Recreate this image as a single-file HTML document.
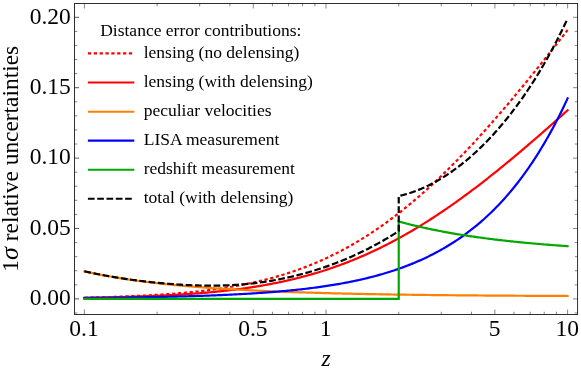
<!DOCTYPE html>
<html><head><meta charset="utf-8"><title>plot</title>
<style>
html,body{margin:0;padding:0;background:#fff;}
svg{display:block;will-change:transform;opacity:0.999;}
text{font-family:"Liberation Serif",serif;fill:#000;}
.tk{font-size:23.5px;}
.lg{font-size:17.5px;}
.ax{font-size:23.4px;}
.c{fill:none;stroke-width:2.2;stroke-linejoin:round;stroke-linecap:square;}
</style></head><body>
<svg width="581" height="372" viewBox="0 0 581 372">
<rect x="0" y="0" width="581" height="372" fill="#fff"/>
<g>
<path class="c" stroke="#ff0000" stroke-dasharray="3.3 2.55" style="stroke-linecap:butt" d="M84.40,297.63 L86.02,297.60 L87.63,297.57 L89.25,297.53 L90.86,297.49 L92.48,297.46 L94.10,297.42 L95.71,297.38 L97.33,297.34 L98.94,297.30 L100.56,297.25 L102.18,297.21 L103.79,297.17 L105.41,297.12 L107.02,297.07 L108.64,297.03 L110.26,296.98 L111.87,296.93 L113.49,296.87 L115.11,296.82 L116.72,296.77 L118.34,296.71 L119.95,296.65 L121.57,296.59 L123.19,296.53 L124.80,296.47 L126.42,296.41 L128.03,296.34 L129.65,296.28 L131.27,296.21 L132.88,296.14 L134.50,296.07 L136.11,296.00 L137.73,295.92 L139.35,295.85 L140.96,295.77 L142.58,295.69 L144.19,295.60 L145.81,295.52 L147.43,295.43 L149.04,295.35 L150.66,295.25 L152.27,295.16 L153.89,295.07 L155.51,294.97 L157.12,294.87 L158.74,294.77 L160.35,294.66 L161.97,294.56 L163.59,294.45 L165.20,294.34 L166.82,294.22 L168.43,294.11 L170.05,293.99 L171.67,293.86 L173.28,293.74 L174.90,293.61 L176.52,293.48 L178.13,293.34 L179.75,293.21 L181.36,293.07 L182.98,292.92 L184.60,292.78 L186.21,292.63 L187.83,292.47 L189.44,292.32 L191.06,292.16 L192.68,291.99 L194.29,291.82 L195.91,291.65 L197.52,291.48 L199.14,291.30 L200.76,291.11 L202.37,290.93 L203.99,290.74 L205.60,290.54 L207.22,290.34 L208.84,290.14 L210.45,289.93 L212.07,289.72 L213.68,289.50 L215.30,289.28 L216.92,289.05 L218.53,288.82 L220.15,288.59 L221.76,288.35 L223.38,288.10 L225.00,287.85 L226.61,287.59 L228.23,287.33 L229.84,287.07 L231.46,286.79 L233.08,286.52 L234.69,286.23 L236.31,285.94 L237.93,285.65 L239.54,285.35 L241.16,285.04 L242.77,284.73 L244.39,284.41 L246.01,284.09 L247.62,283.76 L249.24,283.42 L250.85,283.07 L252.47,282.72 L254.09,282.37 L255.70,282.00 L257.32,281.63 L258.93,281.26 L260.55,280.87 L262.17,280.48 L263.78,280.08 L265.40,279.67 L267.01,279.26 L268.63,278.84 L270.25,278.41 L271.86,277.97 L273.48,277.53 L275.09,277.08 L276.71,276.62 L278.33,276.15 L279.94,275.67 L281.56,275.19 L283.17,274.69 L284.79,274.19 L286.41,273.68 L288.02,273.17 L289.64,272.64 L291.25,272.10 L292.87,271.56 L294.49,271.00 L296.10,270.44 L297.72,269.87 L299.34,269.29 L300.95,268.70 L302.57,268.10 L304.18,267.49 L305.80,266.87 L307.42,266.24 L309.03,265.60 L310.65,264.96 L312.26,264.30 L313.88,263.63 L315.50,262.95 L317.11,262.27 L318.73,261.57 L320.34,260.86 L321.96,260.14 L323.58,259.41 L325.19,258.67 L326.81,257.92 L328.42,257.16 L330.04,256.39 L331.66,255.61 L333.27,254.82 L334.89,254.01 L336.50,253.20 L338.12,252.37 L339.74,251.54 L341.35,250.69 L342.97,249.83 L344.58,248.96 L346.20,248.08 L347.82,247.19 L349.43,246.29 L351.05,245.37 L352.66,244.45 L354.28,243.51 L355.90,242.56 L357.51,241.60 L359.13,240.63 L360.75,239.65 L362.36,238.65 L363.98,237.65 L365.59,236.63 L367.21,235.60 L368.83,234.56 L370.44,233.50 L372.06,232.44 L373.67,231.36 L375.29,230.27 L376.91,229.17 L378.52,228.06 L380.14,226.94 L381.75,225.81 L383.37,224.66 L384.99,223.50 L386.60,222.33 L388.22,221.15 L389.83,219.95 L391.45,218.75 L393.07,217.53 L394.68,216.30 L396.30,215.06 L397.91,213.81 L399.53,212.55 L401.15,211.27 L402.76,209.99 L404.38,208.69 L405.99,207.38 L407.61,206.06 L409.23,204.72 L410.84,203.38 L412.46,202.02 L414.07,200.66 L415.69,199.28 L417.31,197.89 L418.92,196.49 L420.54,195.08 L422.16,193.65 L423.77,192.22 L425.39,190.78 L427.00,189.32 L428.62,187.85 L430.24,186.38 L431.85,184.89 L433.47,183.39 L435.08,181.88 L436.70,180.36 L438.32,178.83 L439.93,177.28 L441.55,175.73 L443.16,174.17 L444.78,172.60 L446.40,171.02 L448.01,169.42 L449.63,167.82 L451.24,166.21 L452.86,164.59 L454.48,162.95 L456.09,161.31 L457.71,159.66 L459.32,158.00 L460.94,156.33 L462.56,154.65 L464.17,152.96 L465.79,151.26 L467.40,149.55 L469.02,147.84 L470.64,146.11 L472.25,144.38 L473.87,142.63 L475.48,140.88 L477.10,139.12 L478.72,137.35 L480.33,135.58 L481.95,133.79 L483.57,132.00 L485.18,130.19 L486.80,128.39 L488.41,126.57 L490.03,124.74 L491.65,122.91 L493.26,121.07 L494.88,119.22 L496.49,117.37 L498.11,115.50 L499.73,113.63 L501.34,111.76 L502.96,109.87 L504.57,107.98 L506.19,106.08 L507.81,104.18 L509.42,102.27 L511.04,100.35 L512.65,98.43 L514.27,96.50 L515.89,94.56 L517.50,92.62 L519.12,90.67 L520.73,88.72 L522.35,86.76 L523.97,84.79 L525.58,82.82 L527.20,80.85 L528.81,78.86 L530.43,76.88 L532.05,74.89 L533.66,72.89 L535.28,70.89 L536.89,68.88 L538.51,66.87 L540.13,64.85 L541.74,62.83 L543.36,60.81 L544.98,58.78 L546.59,56.75 L548.21,54.71 L549.82,52.67 L551.44,50.62 L553.06,48.57 L554.67,46.52 L556.29,44.46 L557.90,42.40 L559.52,40.34 L561.14,38.27 L562.75,36.20 L564.37,34.13 L565.98,32.05 L567.60,29.97"/>
<path class="c" stroke="#ff0000" d="M84.40,297.86 L86.02,297.84 L87.63,297.81 L89.25,297.78 L90.86,297.75 L92.48,297.73 L94.10,297.70 L95.71,297.67 L97.33,297.64 L98.94,297.60 L100.56,297.57 L102.18,297.54 L103.79,297.51 L105.41,297.47 L107.02,297.44 L108.64,297.40 L110.26,297.36 L111.87,297.32 L113.49,297.29 L115.11,297.25 L116.72,297.21 L118.34,297.16 L119.95,297.12 L121.57,297.08 L123.19,297.03 L124.80,296.99 L126.42,296.94 L128.03,296.89 L129.65,296.84 L131.27,296.79 L132.88,296.74 L134.50,296.69 L136.11,296.64 L137.73,296.58 L139.35,296.52 L140.96,296.47 L142.58,296.41 L144.19,296.35 L145.81,296.28 L147.43,296.22 L149.04,296.16 L150.66,296.09 L152.27,296.02 L153.89,295.95 L155.51,295.88 L157.12,295.81 L158.74,295.74 L160.35,295.66 L161.97,295.58 L163.59,295.50 L165.20,295.42 L166.82,295.34 L168.43,295.25 L170.05,295.17 L171.67,295.08 L173.28,294.99 L174.90,294.89 L176.52,294.80 L178.13,294.70 L179.75,294.60 L181.36,294.50 L182.98,294.40 L184.60,294.29 L186.21,294.18 L187.83,294.07 L189.44,293.96 L191.06,293.85 L192.68,293.73 L194.29,293.61 L195.91,293.48 L197.52,293.36 L199.14,293.23 L200.76,293.10 L202.37,292.97 L203.99,292.83 L205.60,292.69 L207.22,292.55 L208.84,292.40 L210.45,292.25 L212.07,292.10 L213.68,291.94 L215.30,291.79 L216.92,291.62 L218.53,291.46 L220.15,291.29 L221.76,291.12 L223.38,290.94 L225.00,290.77 L226.61,290.58 L228.23,290.40 L229.84,290.21 L231.46,290.01 L233.08,289.82 L234.69,289.62 L236.31,289.41 L237.93,289.20 L239.54,288.99 L241.16,288.77 L242.77,288.55 L244.39,288.32 L246.01,288.09 L247.62,287.86 L249.24,287.62 L250.85,287.37 L252.47,287.13 L254.09,286.87 L255.70,286.62 L257.32,286.35 L258.93,286.09 L260.55,285.81 L262.17,285.54 L263.78,285.25 L265.40,284.97 L267.01,284.67 L268.63,284.38 L270.25,284.07 L271.86,283.76 L273.48,283.45 L275.09,283.13 L276.71,282.81 L278.33,282.48 L279.94,282.14 L281.56,281.80 L283.17,281.45 L284.79,281.10 L286.41,280.74 L288.02,280.37 L289.64,280.00 L291.25,279.62 L292.87,279.24 L294.49,278.85 L296.10,278.45 L297.72,278.05 L299.34,277.64 L300.95,277.23 L302.57,276.80 L304.18,276.38 L305.80,275.94 L307.42,275.50 L309.03,275.05 L310.65,274.59 L312.26,274.13 L313.88,273.66 L315.50,273.18 L317.11,272.70 L318.73,272.21 L320.34,271.71 L321.96,271.21 L323.58,270.70 L325.19,270.18 L326.81,269.65 L328.42,269.12 L330.04,268.58 L331.66,268.03 L333.27,267.47 L334.89,266.91 L336.50,266.33 L338.12,265.76 L339.74,265.17 L341.35,264.57 L342.97,263.97 L344.58,263.36 L346.20,262.74 L347.82,262.12 L349.43,261.49 L351.05,260.84 L352.66,260.20 L354.28,259.54 L355.90,258.87 L357.51,258.20 L359.13,257.52 L360.75,256.83 L362.36,256.13 L363.98,255.43 L365.59,254.71 L367.21,253.99 L368.83,253.26 L370.44,252.53 L372.06,251.78 L373.67,251.03 L375.29,250.26 L376.91,249.49 L378.52,248.72 L380.14,247.93 L381.75,247.13 L383.37,246.33 L384.99,245.52 L386.60,244.70 L388.22,243.87 L389.83,243.04 L391.45,242.20 L393.07,241.34 L394.68,240.48 L396.30,239.62 L397.91,238.74 L399.53,237.86 L401.15,236.96 L402.76,236.06 L404.38,235.16 L405.99,234.24 L407.61,233.32 L409.23,232.38 L410.84,231.44 L412.46,230.49 L414.07,229.54 L415.69,228.57 L417.31,227.60 L418.92,226.62 L420.54,225.64 L422.16,224.64 L423.77,223.64 L425.39,222.63 L427.00,221.61 L428.62,220.58 L430.24,219.55 L431.85,218.51 L433.47,217.46 L435.08,216.41 L436.70,215.34 L438.32,214.27 L439.93,213.20 L441.55,212.11 L443.16,211.02 L444.78,209.92 L446.40,208.82 L448.01,207.70 L449.63,206.58 L451.24,205.46 L452.86,204.32 L454.48,203.18 L456.09,202.03 L457.71,200.88 L459.32,199.72 L460.94,198.55 L462.56,197.38 L464.17,196.20 L465.79,195.01 L467.40,193.82 L469.02,192.62 L470.64,191.41 L472.25,190.20 L473.87,188.98 L475.48,187.76 L477.10,186.53 L478.72,185.29 L480.33,184.05 L481.95,182.80 L483.57,181.55 L485.18,180.29 L486.80,179.03 L488.41,177.76 L490.03,176.48 L491.65,175.20 L493.26,173.91 L494.88,172.62 L496.49,171.33 L498.11,170.03 L499.73,168.72 L501.34,167.41 L502.96,166.09 L504.57,164.77 L506.19,163.45 L507.81,162.12 L509.42,160.78 L511.04,159.44 L512.65,158.10 L514.27,156.75 L515.89,155.40 L517.50,154.04 L519.12,152.68 L520.73,151.31 L522.35,149.95 L523.97,148.57 L525.58,147.20 L527.20,145.82 L528.81,144.43 L530.43,143.04 L532.05,141.65 L533.66,140.26 L535.28,138.86 L536.89,137.46 L538.51,136.05 L540.13,134.64 L541.74,133.23 L543.36,131.82 L544.98,130.40 L546.59,128.98 L548.21,127.56 L549.82,126.13 L551.44,124.70 L553.06,123.27 L554.67,121.83 L556.29,120.40 L557.90,118.96 L559.52,117.52 L561.14,116.07 L562.75,114.63 L564.37,113.18 L565.98,111.73 L567.60,110.28"/>
<path class="c" stroke="#ff7f00" d="M84.40,271.35 L86.02,271.71 L87.63,272.07 L89.25,272.42 L90.86,272.76 L92.48,273.10 L94.10,273.43 L95.71,273.76 L97.33,274.09 L98.94,274.41 L100.56,274.72 L102.18,275.03 L103.79,275.33 L105.41,275.63 L107.02,275.93 L108.64,276.22 L110.26,276.51 L111.87,276.79 L113.49,277.07 L115.11,277.34 L116.72,277.61 L118.34,277.88 L119.95,278.14 L121.57,278.40 L123.19,278.65 L124.80,278.90 L126.42,279.15 L128.03,279.39 L129.65,279.63 L131.27,279.86 L132.88,280.09 L134.50,280.32 L136.11,280.55 L137.73,280.77 L139.35,280.99 L140.96,281.20 L142.58,281.41 L144.19,281.62 L145.81,281.83 L147.43,282.03 L149.04,282.23 L150.66,282.43 L152.27,282.62 L153.89,282.81 L155.51,283.00 L157.12,283.18 L158.74,283.36 L160.35,283.54 L161.97,283.72 L163.59,283.89 L165.20,284.07 L166.82,284.23 L168.43,284.40 L170.05,284.57 L171.67,284.73 L173.28,284.89 L174.90,285.04 L176.52,285.20 L178.13,285.35 L179.75,285.50 L181.36,285.65 L182.98,285.79 L184.60,285.94 L186.21,286.08 L187.83,286.22 L189.44,286.36 L191.06,286.49 L192.68,286.62 L194.29,286.76 L195.91,286.89 L197.52,287.01 L199.14,287.14 L200.76,287.26 L202.37,287.39 L203.99,287.51 L205.60,287.63 L207.22,287.74 L208.84,287.86 L210.45,287.97 L212.07,288.08 L213.68,288.19 L215.30,288.30 L216.92,288.41 L218.53,288.52 L220.15,288.62 L221.76,288.72 L223.38,288.82 L225.00,288.93 L226.61,289.02 L228.23,289.12 L229.84,289.22 L231.46,289.31 L233.08,289.40 L234.69,289.50 L236.31,289.59 L237.93,289.68 L239.54,289.76 L241.16,289.85 L242.77,289.94 L244.39,290.02 L246.01,290.11 L247.62,290.19 L249.24,290.27 L250.85,290.35 L252.47,290.43 L254.09,290.51 L255.70,290.58 L257.32,290.66 L258.93,290.73 L260.55,290.81 L262.17,290.88 L263.78,290.95 L265.40,291.02 L267.01,291.09 L268.63,291.16 L270.25,291.23 L271.86,291.30 L273.48,291.36 L275.09,291.43 L276.71,291.49 L278.33,291.56 L279.94,291.62 L281.56,291.68 L283.17,291.74 L284.79,291.80 L286.41,291.86 L288.02,291.92 L289.64,291.98 L291.25,292.04 L292.87,292.09 L294.49,292.15 L296.10,292.21 L297.72,292.26 L299.34,292.31 L300.95,292.37 L302.57,292.42 L304.18,292.47 L305.80,292.52 L307.42,292.57 L309.03,292.62 L310.65,292.67 L312.26,292.72 L313.88,292.77 L315.50,292.82 L317.11,292.86 L318.73,292.91 L320.34,292.95 L321.96,293.00 L323.58,293.04 L325.19,293.09 L326.81,293.13 L328.42,293.17 L330.04,293.22 L331.66,293.26 L333.27,293.30 L334.89,293.34 L336.50,293.38 L338.12,293.42 L339.74,293.46 L341.35,293.50 L342.97,293.54 L344.58,293.57 L346.20,293.61 L347.82,293.65 L349.43,293.69 L351.05,293.72 L352.66,293.76 L354.28,293.79 L355.90,293.83 L357.51,293.86 L359.13,293.89 L360.75,293.93 L362.36,293.96 L363.98,293.99 L365.59,294.03 L367.21,294.06 L368.83,294.09 L370.44,294.12 L372.06,294.15 L373.67,294.18 L375.29,294.21 L376.91,294.24 L378.52,294.27 L380.14,294.30 L381.75,294.32 L383.37,294.35 L384.99,294.38 L386.60,294.41 L388.22,294.43 L389.83,294.46 L391.45,294.49 L393.07,294.51 L394.68,294.54 L396.30,294.56 L397.91,294.59 L399.53,294.61 L401.15,294.63 L402.76,294.66 L404.38,294.68 L405.99,294.71 L407.61,294.73 L409.23,294.75 L410.84,294.77 L412.46,294.79 L414.07,294.82 L415.69,294.84 L417.31,294.86 L418.92,294.88 L420.54,294.90 L422.16,294.92 L423.77,294.94 L425.39,294.96 L427.00,294.98 L428.62,295.00 L430.24,295.02 L431.85,295.04 L433.47,295.05 L435.08,295.07 L436.70,295.09 L438.32,295.11 L439.93,295.13 L441.55,295.14 L443.16,295.16 L444.78,295.18 L446.40,295.19 L448.01,295.21 L449.63,295.23 L451.24,295.24 L452.86,295.26 L454.48,295.27 L456.09,295.29 L457.71,295.30 L459.32,295.32 L460.94,295.33 L462.56,295.35 L464.17,295.36 L465.79,295.37 L467.40,295.39 L469.02,295.40 L470.64,295.42 L472.25,295.43 L473.87,295.44 L475.48,295.46 L477.10,295.47 L478.72,295.48 L480.33,295.49 L481.95,295.51 L483.57,295.52 L485.18,295.53 L486.80,295.54 L488.41,295.55 L490.03,295.56 L491.65,295.58 L493.26,295.59 L494.88,295.60 L496.49,295.61 L498.11,295.62 L499.73,295.63 L501.34,295.64 L502.96,295.65 L504.57,295.66 L506.19,295.67 L507.81,295.68 L509.42,295.69 L511.04,295.70 L512.65,295.71 L514.27,295.72 L515.89,295.73 L517.50,295.74 L519.12,295.75 L520.73,295.75 L522.35,295.76 L523.97,295.77 L525.58,295.78 L527.20,295.79 L528.81,295.80 L530.43,295.81 L532.05,295.81 L533.66,295.82 L535.28,295.83 L536.89,295.84 L538.51,295.85 L540.13,295.85 L541.74,295.86 L543.36,295.87 L544.98,295.87 L546.59,295.88 L548.21,295.89 L549.82,295.90 L551.44,295.90 L553.06,295.91 L554.67,295.92 L556.29,295.92 L557.90,295.93 L559.52,295.94 L561.14,295.94 L562.75,295.95 L564.37,295.96 L565.98,295.96 L567.60,295.97"/>
<path class="c" stroke="#0000ff" d="M84.40,298.00 L86.02,297.99 L87.63,297.97 L89.25,297.96 L90.86,297.94 L92.48,297.93 L94.10,297.91 L95.71,297.89 L97.33,297.88 L98.94,297.86 L100.56,297.84 L102.18,297.82 L103.79,297.81 L105.41,297.79 L107.02,297.77 L108.64,297.75 L110.26,297.73 L111.87,297.71 L113.49,297.69 L115.11,297.67 L116.72,297.65 L118.34,297.63 L119.95,297.61 L121.57,297.59 L123.19,297.56 L124.80,297.54 L126.42,297.52 L128.03,297.49 L129.65,297.47 L131.27,297.45 L132.88,297.42 L134.50,297.40 L136.11,297.37 L137.73,297.34 L139.35,297.32 L140.96,297.29 L142.58,297.26 L144.19,297.23 L145.81,297.21 L147.43,297.18 L149.04,297.15 L150.66,297.12 L152.27,297.09 L153.89,297.05 L155.51,297.02 L157.12,296.99 L158.74,296.96 L160.35,296.92 L161.97,296.89 L163.59,296.85 L165.20,296.82 L166.82,296.78 L168.43,296.75 L170.05,296.71 L171.67,296.67 L173.28,296.63 L174.90,296.59 L176.52,296.55 L178.13,296.51 L179.75,296.47 L181.36,296.42 L182.98,296.38 L184.60,296.33 L186.21,296.29 L187.83,296.24 L189.44,296.20 L191.06,296.15 L192.68,296.10 L194.29,296.05 L195.91,296.00 L197.52,295.95 L199.14,295.89 L200.76,295.84 L202.37,295.79 L203.99,295.73 L205.60,295.67 L207.22,295.61 L208.84,295.55 L210.45,295.49 L212.07,295.43 L213.68,295.37 L215.30,295.31 L216.92,295.24 L218.53,295.17 L220.15,295.11 L221.76,295.04 L223.38,294.97 L225.00,294.90 L226.61,294.82 L228.23,294.75 L229.84,294.67 L231.46,294.60 L233.08,294.52 L234.69,294.44 L236.31,294.35 L237.93,294.27 L239.54,294.18 L241.16,294.10 L242.77,294.01 L244.39,293.92 L246.01,293.83 L247.62,293.73 L249.24,293.64 L250.85,293.54 L252.47,293.44 L254.09,293.34 L255.70,293.23 L257.32,293.13 L258.93,293.02 L260.55,292.91 L262.17,292.80 L263.78,292.68 L265.40,292.57 L267.01,292.45 L268.63,292.33 L270.25,292.20 L271.86,292.08 L273.48,291.95 L275.09,291.82 L276.71,291.69 L278.33,291.55 L279.94,291.41 L281.56,291.27 L283.17,291.13 L284.79,290.98 L286.41,290.83 L288.02,290.67 L289.64,290.52 L291.25,290.36 L292.87,290.20 L294.49,290.03 L296.10,289.86 L297.72,289.69 L299.34,289.52 L300.95,289.34 L302.57,289.15 L304.18,288.97 L305.80,288.78 L307.42,288.59 L309.03,288.39 L310.65,288.19 L312.26,287.98 L313.88,287.77 L315.50,287.56 L317.11,287.34 L318.73,287.12 L320.34,286.90 L321.96,286.67 L323.58,286.43 L325.19,286.20 L326.81,285.95 L328.42,285.70 L330.04,285.45 L331.66,285.19 L333.27,284.93 L334.89,284.66 L336.50,284.39 L338.12,284.11 L339.74,283.83 L341.35,283.54 L342.97,283.24 L344.58,282.94 L346.20,282.64 L347.82,282.32 L349.43,282.01 L351.05,281.68 L352.66,281.35 L354.28,281.01 L355.90,280.67 L357.51,280.32 L359.13,279.97 L360.75,279.60 L362.36,279.23 L363.98,278.86 L365.59,278.47 L367.21,278.08 L368.83,277.68 L370.44,277.28 L372.06,276.86 L373.67,276.44 L375.29,276.01 L376.91,275.58 L378.52,275.13 L380.14,274.68 L381.75,274.21 L383.37,273.74 L384.99,273.26 L386.60,272.77 L388.22,272.28 L389.83,271.77 L391.45,271.25 L393.07,270.73 L394.68,270.19 L396.30,269.65 L397.91,269.09 L399.53,268.52 L401.15,267.95 L402.76,267.36 L404.38,266.76 L405.99,266.15 L407.61,265.53 L409.23,264.90 L410.84,264.26 L412.46,263.61 L414.07,262.94 L415.69,262.26 L417.31,261.57 L418.92,260.87 L420.54,260.15 L422.16,259.42 L423.77,258.68 L425.39,257.92 L427.00,257.15 L428.62,256.37 L430.24,255.57 L431.85,254.76 L433.47,253.93 L435.08,253.09 L436.70,252.23 L438.32,251.36 L439.93,250.47 L441.55,249.56 L443.16,248.64 L444.78,247.71 L446.40,246.75 L448.01,245.78 L449.63,244.79 L451.24,243.79 L452.86,242.76 L454.48,241.72 L456.09,240.66 L457.71,239.58 L459.32,238.48 L460.94,237.37 L462.56,236.23 L464.17,235.07 L465.79,233.89 L467.40,232.69 L469.02,231.47 L470.64,230.23 L472.25,228.96 L473.87,227.68 L475.48,226.37 L477.10,225.03 L478.72,223.68 L480.33,222.30 L481.95,220.89 L483.57,219.46 L485.18,218.01 L486.80,216.53 L488.41,215.03 L490.03,213.49 L491.65,211.94 L493.26,210.35 L494.88,208.74 L496.49,207.09 L498.11,205.42 L499.73,203.72 L501.34,202.00 L502.96,200.24 L504.57,198.45 L506.19,196.63 L507.81,194.77 L509.42,192.89 L511.04,190.97 L512.65,189.02 L514.27,187.04 L515.89,185.02 L517.50,182.96 L519.12,180.87 L520.73,178.75 L522.35,176.59 L523.97,174.39 L525.58,172.15 L527.20,169.87 L528.81,167.56 L530.43,165.20 L532.05,162.81 L533.66,160.37 L535.28,157.89 L536.89,155.37 L538.51,152.81 L540.13,150.20 L541.74,147.55 L543.36,144.85 L544.98,142.10 L546.59,139.31 L548.21,136.47 L549.82,133.59 L551.44,130.65 L553.06,127.66 L554.67,124.63 L556.29,121.54 L557.90,118.40 L559.52,115.20 L561.14,111.95 L562.75,108.65 L564.37,105.28 L565.98,101.87 L567.60,98.39"/>
<path class="c" stroke="#00a800" style="stroke-linejoin:miter" d="M84.40,298.90 L398.73,298.90 L398.73,221.53 L400.15,221.92 L401.57,222.29 L402.99,222.67 L404.41,223.04 L405.82,223.40 L407.24,223.77 L408.66,224.12 L410.08,224.48 L411.50,224.82 L412.92,225.17 L414.34,225.51 L415.76,225.85 L417.18,226.18 L418.60,226.51 L420.02,226.83 L421.43,227.16 L422.85,227.47 L424.27,227.79 L425.69,228.10 L427.11,228.40 L428.53,228.71 L429.95,229.01 L431.37,229.30 L432.79,229.59 L434.21,229.88 L435.63,230.17 L437.04,230.45 L438.46,230.73 L439.88,231.00 L441.30,231.28 L442.72,231.55 L444.14,231.81 L445.56,232.07 L446.98,232.33 L448.40,232.59 L449.82,232.84 L451.24,233.09 L452.65,233.34 L454.07,233.58 L455.49,233.83 L456.91,234.06 L458.33,234.30 L459.75,234.53 L461.17,234.76 L462.59,234.99 L464.01,235.21 L465.43,235.44 L466.84,235.66 L468.26,235.87 L469.68,236.09 L471.10,236.30 L472.52,236.51 L473.94,236.71 L475.36,236.92 L476.78,237.12 L478.20,237.32 L479.62,237.52 L481.04,237.71 L482.45,237.90 L483.87,238.09 L485.29,238.28 L486.71,238.47 L488.13,238.65 L489.55,238.83 L490.97,239.01 L492.39,239.19 L493.81,239.36 L495.23,239.54 L496.65,239.71 L498.06,239.88 L499.48,240.04 L500.90,240.21 L502.32,240.37 L503.74,240.53 L505.16,240.69 L506.58,240.85 L508.00,241.00 L509.42,241.16 L510.84,241.31 L512.26,241.46 L513.67,241.61 L515.09,241.76 L516.51,241.90 L517.93,242.04 L519.35,242.19 L520.77,242.33 L522.19,242.46 L523.61,242.60 L525.03,242.74 L526.45,242.87 L527.87,243.00 L529.28,243.13 L530.70,243.26 L532.12,243.39 L533.54,243.52 L534.96,243.64 L536.38,243.77 L537.80,243.89 L539.22,244.01 L540.64,244.13 L542.06,244.25 L543.48,244.36 L544.89,244.48 L546.31,244.59 L547.73,244.71 L549.15,244.82 L550.57,244.93 L551.99,245.04 L553.41,245.15 L554.83,245.25 L556.25,245.36 L557.67,245.46 L559.09,245.57 L560.50,245.67 L561.92,245.77 L563.34,245.87 L564.76,245.97 L566.18,246.07 L567.60,246.16"/>
<path class="c" stroke="#000" stroke-dasharray="6.7 2.6" style="stroke-linecap:butt" d="M84.40,271.32 L85.98,271.67 L87.56,272.01 L89.14,272.35 L90.72,272.69 L92.30,273.02 L93.88,273.34 L95.46,273.66 L97.04,273.98 L98.62,274.29 L100.20,274.59 L101.77,274.89 L103.35,275.19 L104.93,275.48 L106.51,275.76 L108.09,276.05 L109.67,276.32 L111.25,276.60 L112.83,276.86 L114.41,277.13 L115.99,277.39 L117.57,277.64 L119.15,277.90 L120.73,278.14 L122.31,278.39 L123.89,278.63 L125.47,278.86 L127.05,279.09 L128.63,279.32 L130.21,279.54 L131.79,279.76 L133.37,279.98 L134.95,280.19 L136.52,280.40 L138.10,280.60 L139.68,280.80 L141.26,281.00 L142.84,281.19 L144.42,281.38 L146.00,281.57 L147.58,281.75 L149.16,281.93 L150.74,282.10 L152.32,282.27 L153.90,282.44 L155.48,282.60 L157.06,282.76 L158.64,282.92 L160.22,283.07 L161.80,283.22 L163.38,283.36 L164.96,283.50 L166.54,283.64 L168.12,283.77 L169.70,283.90 L171.27,284.02 L172.85,284.14 L174.43,284.26 L176.01,284.37 L177.59,284.48 L179.17,284.58 L180.75,284.68 L182.33,284.78 L183.91,284.87 L185.49,284.95 L187.07,285.04 L188.65,285.11 L190.23,285.19 L191.81,285.25 L193.39,285.32 L194.97,285.37 L196.55,285.43 L198.13,285.47 L199.71,285.52 L201.29,285.55 L202.87,285.59 L204.45,285.61 L206.02,285.63 L207.60,285.65 L209.18,285.66 L210.76,285.66 L212.34,285.66 L213.92,285.65 L215.50,285.64 L217.08,285.62 L218.66,285.59 L220.24,285.56 L221.82,285.52 L223.40,285.47 L224.98,285.42 L226.56,285.36 L228.14,285.30 L229.72,285.22 L231.30,285.15 L232.88,285.06 L234.46,284.97 L236.04,284.87 L237.62,284.76 L239.20,284.65 L240.77,284.52 L242.35,284.40 L243.93,284.26 L245.51,284.12 L247.09,283.97 L248.67,283.81 L250.25,283.64 L251.83,283.47 L253.41,283.29 L254.99,283.11 L256.57,282.91 L258.15,282.71 L259.73,282.50 L261.31,282.28 L262.89,282.06 L264.47,281.83 L266.05,281.59 L267.63,281.34 L269.21,281.09 L270.79,280.82 L272.37,280.55 L273.95,280.28 L275.52,279.99 L277.10,279.70 L278.68,279.40 L280.26,279.09 L281.84,278.77 L283.42,278.45 L285.00,278.12 L286.58,277.78 L288.16,277.43 L289.74,277.08 L291.32,276.71 L292.90,276.34 L294.48,275.96 L296.06,275.58 L297.64,275.18 L299.22,274.78 L300.80,274.37 L302.38,273.95 L303.96,273.52 L305.54,273.08 L307.12,272.64 L308.69,272.19 L310.27,271.73 L311.85,271.26 L313.43,270.78 L315.01,270.30 L316.59,269.80 L318.17,269.30 L319.75,268.79 L321.33,268.27 L322.91,267.74 L324.49,267.20 L326.07,266.65 L327.65,266.10 L329.23,265.54 L330.81,264.96 L332.39,264.38 L333.97,263.79 L335.55,263.19 L337.13,262.58 L338.71,261.96 L340.29,261.34 L341.87,260.70 L343.44,260.05 L345.02,259.40 L346.60,258.73 L348.18,258.06 L349.76,257.37 L351.34,256.68 L352.92,255.98 L354.50,255.26 L356.08,254.54 L357.66,253.81 L359.24,253.07 L360.82,252.31 L362.40,251.55 L363.98,250.78 L365.56,249.99 L367.14,249.20 L368.72,248.40 L370.30,247.58 L371.88,246.76 L373.46,245.93 L375.04,245.08 L376.62,244.23 L378.19,243.36 L379.77,242.48 L381.35,241.59 L382.93,240.70 L384.51,239.79 L386.09,238.87 L387.67,237.93 L389.25,236.99 L390.83,236.04 L392.41,235.07 L393.99,234.10 L395.57,233.11 L397.15,232.11 L398.73,231.10 L398.73,196.03 L400.15,195.71 L401.57,195.37 L402.99,195.01 L404.41,194.63 L405.82,194.24 L407.24,193.83 L408.66,193.40 L410.08,192.95 L411.50,192.48 L412.92,192.00 L414.34,191.49 L415.76,190.97 L417.18,190.43 L418.60,189.87 L420.02,189.29 L421.43,188.70 L422.85,188.08 L424.27,187.45 L425.69,186.80 L427.11,186.13 L428.53,185.45 L429.95,184.74 L431.37,184.02 L432.79,183.27 L434.21,182.51 L435.63,181.74 L437.04,180.94 L438.46,180.12 L439.88,179.29 L441.30,178.44 L442.72,177.57 L444.14,176.68 L445.56,175.78 L446.98,174.85 L448.40,173.91 L449.82,172.95 L451.24,171.97 L452.65,170.97 L454.07,169.96 L455.49,168.92 L456.91,167.87 L458.33,166.80 L459.75,165.71 L461.17,164.60 L462.59,163.48 L464.01,162.33 L465.43,161.17 L466.84,159.99 L468.26,158.79 L469.68,157.57 L471.10,156.33 L472.52,155.08 L473.94,153.80 L475.36,152.51 L476.78,151.19 L478.20,149.86 L479.62,148.51 L481.04,147.14 L482.45,145.75 L483.87,144.34 L485.29,142.91 L486.71,141.46 L488.13,139.99 L489.55,138.50 L490.97,136.99 L492.39,135.46 L493.81,133.90 L495.23,132.33 L496.65,130.74 L498.06,129.13 L499.48,127.49 L500.90,125.84 L502.32,124.16 L503.74,122.46 L505.16,120.74 L506.58,118.99 L508.00,117.23 L509.42,115.44 L510.84,113.63 L512.26,111.79 L513.67,109.93 L515.09,108.05 L516.51,106.15 L517.93,104.22 L519.35,102.26 L520.77,100.28 L522.19,98.28 L523.61,96.25 L525.03,94.19 L526.45,92.11 L527.87,90.00 L529.28,87.87 L530.70,85.71 L532.12,83.52 L533.54,81.30 L534.96,79.05 L536.38,76.78 L537.80,74.48 L539.22,72.14 L540.64,69.78 L542.06,67.39 L543.48,64.96 L544.89,62.51 L546.31,60.02 L547.73,57.50 L549.15,54.95 L550.57,52.37 L551.99,49.75 L553.41,47.10 L554.83,44.41 L556.25,41.69 L557.67,38.94 L559.09,36.14 L560.50,33.31 L561.92,30.45 L563.34,27.54 L564.76,24.60 L566.18,21.61 L567.60,18.59"/>
</g>
<g>
<line x1="84.40" y1="314.50" x2="84.40" y2="309.50" stroke="#333" stroke-width="0.6"/>
<line x1="84.40" y1="3.50" x2="84.40" y2="8.50" stroke="#333" stroke-width="0.6"/>
<line x1="157.13" y1="314.50" x2="157.13" y2="311.70" stroke="#333" stroke-width="0.6"/>
<line x1="157.13" y1="3.50" x2="157.13" y2="6.30" stroke="#333" stroke-width="0.6"/>
<line x1="199.67" y1="314.50" x2="199.67" y2="311.70" stroke="#333" stroke-width="0.6"/>
<line x1="199.67" y1="3.50" x2="199.67" y2="6.30" stroke="#333" stroke-width="0.6"/>
<line x1="229.86" y1="314.50" x2="229.86" y2="311.70" stroke="#333" stroke-width="0.6"/>
<line x1="229.86" y1="3.50" x2="229.86" y2="6.30" stroke="#333" stroke-width="0.6"/>
<line x1="253.27" y1="314.50" x2="253.27" y2="309.50" stroke="#333" stroke-width="0.6"/>
<line x1="253.27" y1="3.50" x2="253.27" y2="8.50" stroke="#333" stroke-width="0.6"/>
<line x1="272.40" y1="314.50" x2="272.40" y2="311.70" stroke="#333" stroke-width="0.6"/>
<line x1="272.40" y1="3.50" x2="272.40" y2="6.30" stroke="#333" stroke-width="0.6"/>
<line x1="288.58" y1="314.50" x2="288.58" y2="311.70" stroke="#333" stroke-width="0.6"/>
<line x1="288.58" y1="3.50" x2="288.58" y2="6.30" stroke="#333" stroke-width="0.6"/>
<line x1="302.59" y1="314.50" x2="302.59" y2="311.70" stroke="#333" stroke-width="0.6"/>
<line x1="302.59" y1="3.50" x2="302.59" y2="6.30" stroke="#333" stroke-width="0.6"/>
<line x1="314.94" y1="314.50" x2="314.94" y2="311.70" stroke="#333" stroke-width="0.6"/>
<line x1="314.94" y1="3.50" x2="314.94" y2="6.30" stroke="#333" stroke-width="0.6"/>
<line x1="326.00" y1="314.50" x2="326.00" y2="309.50" stroke="#333" stroke-width="0.6"/>
<line x1="326.00" y1="3.50" x2="326.00" y2="8.50" stroke="#333" stroke-width="0.6"/>
<line x1="398.73" y1="314.50" x2="398.73" y2="311.70" stroke="#333" stroke-width="0.6"/>
<line x1="398.73" y1="3.50" x2="398.73" y2="6.30" stroke="#333" stroke-width="0.6"/>
<line x1="441.27" y1="314.50" x2="441.27" y2="311.70" stroke="#333" stroke-width="0.6"/>
<line x1="441.27" y1="3.50" x2="441.27" y2="6.30" stroke="#333" stroke-width="0.6"/>
<line x1="471.46" y1="314.50" x2="471.46" y2="311.70" stroke="#333" stroke-width="0.6"/>
<line x1="471.46" y1="3.50" x2="471.46" y2="6.30" stroke="#333" stroke-width="0.6"/>
<line x1="494.87" y1="314.50" x2="494.87" y2="309.50" stroke="#333" stroke-width="0.6"/>
<line x1="494.87" y1="3.50" x2="494.87" y2="8.50" stroke="#333" stroke-width="0.6"/>
<line x1="514.00" y1="314.50" x2="514.00" y2="311.70" stroke="#333" stroke-width="0.6"/>
<line x1="514.00" y1="3.50" x2="514.00" y2="6.30" stroke="#333" stroke-width="0.6"/>
<line x1="530.18" y1="314.50" x2="530.18" y2="311.70" stroke="#333" stroke-width="0.6"/>
<line x1="530.18" y1="3.50" x2="530.18" y2="6.30" stroke="#333" stroke-width="0.6"/>
<line x1="544.19" y1="314.50" x2="544.19" y2="311.70" stroke="#333" stroke-width="0.6"/>
<line x1="544.19" y1="3.50" x2="544.19" y2="6.30" stroke="#333" stroke-width="0.6"/>
<line x1="556.54" y1="314.50" x2="556.54" y2="311.70" stroke="#333" stroke-width="0.6"/>
<line x1="556.54" y1="3.50" x2="556.54" y2="6.30" stroke="#333" stroke-width="0.6"/>
<line x1="567.60" y1="314.50" x2="567.60" y2="309.50" stroke="#333" stroke-width="0.6"/>
<line x1="567.60" y1="3.50" x2="567.60" y2="8.50" stroke="#333" stroke-width="0.6"/>
<line x1="74.50" y1="312.98" x2="77.30" y2="312.98" stroke="#333" stroke-width="0.6"/>
<line x1="577.60" y1="312.98" x2="574.80" y2="312.98" stroke="#333" stroke-width="0.6"/>
<line x1="74.50" y1="298.90" x2="79.10" y2="298.90" stroke="#222" stroke-width="0.75"/>
<line x1="577.60" y1="298.90" x2="573.00" y2="298.90" stroke="#333" stroke-width="0.6"/>
<line x1="74.50" y1="284.82" x2="77.30" y2="284.82" stroke="#333" stroke-width="0.6"/>
<line x1="577.60" y1="284.82" x2="574.80" y2="284.82" stroke="#333" stroke-width="0.6"/>
<line x1="74.50" y1="270.74" x2="77.30" y2="270.74" stroke="#333" stroke-width="0.6"/>
<line x1="577.60" y1="270.74" x2="574.80" y2="270.74" stroke="#333" stroke-width="0.6"/>
<line x1="74.50" y1="256.66" x2="77.30" y2="256.66" stroke="#333" stroke-width="0.6"/>
<line x1="577.60" y1="256.66" x2="574.80" y2="256.66" stroke="#333" stroke-width="0.6"/>
<line x1="74.50" y1="242.58" x2="77.30" y2="242.58" stroke="#333" stroke-width="0.6"/>
<line x1="577.60" y1="242.58" x2="574.80" y2="242.58" stroke="#333" stroke-width="0.6"/>
<line x1="74.50" y1="228.50" x2="79.10" y2="228.50" stroke="#222" stroke-width="0.75"/>
<line x1="577.60" y1="228.50" x2="573.00" y2="228.50" stroke="#333" stroke-width="0.6"/>
<line x1="74.50" y1="214.42" x2="77.30" y2="214.42" stroke="#333" stroke-width="0.6"/>
<line x1="577.60" y1="214.42" x2="574.80" y2="214.42" stroke="#333" stroke-width="0.6"/>
<line x1="74.50" y1="200.34" x2="77.30" y2="200.34" stroke="#333" stroke-width="0.6"/>
<line x1="577.60" y1="200.34" x2="574.80" y2="200.34" stroke="#333" stroke-width="0.6"/>
<line x1="74.50" y1="186.26" x2="77.30" y2="186.26" stroke="#333" stroke-width="0.6"/>
<line x1="577.60" y1="186.26" x2="574.80" y2="186.26" stroke="#333" stroke-width="0.6"/>
<line x1="74.50" y1="172.18" x2="77.30" y2="172.18" stroke="#333" stroke-width="0.6"/>
<line x1="577.60" y1="172.18" x2="574.80" y2="172.18" stroke="#333" stroke-width="0.6"/>
<line x1="74.50" y1="158.10" x2="79.10" y2="158.10" stroke="#222" stroke-width="0.75"/>
<line x1="577.60" y1="158.10" x2="573.00" y2="158.10" stroke="#333" stroke-width="0.6"/>
<line x1="74.50" y1="144.02" x2="77.30" y2="144.02" stroke="#333" stroke-width="0.6"/>
<line x1="577.60" y1="144.02" x2="574.80" y2="144.02" stroke="#333" stroke-width="0.6"/>
<line x1="74.50" y1="129.94" x2="77.30" y2="129.94" stroke="#333" stroke-width="0.6"/>
<line x1="577.60" y1="129.94" x2="574.80" y2="129.94" stroke="#333" stroke-width="0.6"/>
<line x1="74.50" y1="115.86" x2="77.30" y2="115.86" stroke="#333" stroke-width="0.6"/>
<line x1="577.60" y1="115.86" x2="574.80" y2="115.86" stroke="#333" stroke-width="0.6"/>
<line x1="74.50" y1="101.78" x2="77.30" y2="101.78" stroke="#333" stroke-width="0.6"/>
<line x1="577.60" y1="101.78" x2="574.80" y2="101.78" stroke="#333" stroke-width="0.6"/>
<line x1="74.50" y1="87.70" x2="79.10" y2="87.70" stroke="#222" stroke-width="0.75"/>
<line x1="577.60" y1="87.70" x2="573.00" y2="87.70" stroke="#333" stroke-width="0.6"/>
<line x1="74.50" y1="73.62" x2="77.30" y2="73.62" stroke="#333" stroke-width="0.6"/>
<line x1="577.60" y1="73.62" x2="574.80" y2="73.62" stroke="#333" stroke-width="0.6"/>
<line x1="74.50" y1="59.54" x2="77.30" y2="59.54" stroke="#333" stroke-width="0.6"/>
<line x1="577.60" y1="59.54" x2="574.80" y2="59.54" stroke="#333" stroke-width="0.6"/>
<line x1="74.50" y1="45.46" x2="77.30" y2="45.46" stroke="#333" stroke-width="0.6"/>
<line x1="577.60" y1="45.46" x2="574.80" y2="45.46" stroke="#333" stroke-width="0.6"/>
<line x1="74.50" y1="31.38" x2="77.30" y2="31.38" stroke="#333" stroke-width="0.6"/>
<line x1="577.60" y1="31.38" x2="574.80" y2="31.38" stroke="#333" stroke-width="0.6"/>
<line x1="74.50" y1="17.30" x2="79.10" y2="17.30" stroke="#222" stroke-width="0.75"/>
<line x1="577.60" y1="17.30" x2="573.00" y2="17.30" stroke="#333" stroke-width="0.6"/>
</g>
<rect x="74.5" y="3.5" width="503.1" height="311.0" fill="none" stroke="#1a1a1a" stroke-width="0.9"/>
<text x="70.8" y="305.1" text-anchor="end" class="tk">0.00</text><text x="70.8" y="234.7" text-anchor="end" class="tk">0.05</text><text x="70.8" y="164.3" text-anchor="end" class="tk">0.10</text><text x="70.8" y="93.9" text-anchor="end" class="tk">0.15</text><text x="70.8" y="23.5" text-anchor="end" class="tk">0.20</text>
<text x="84.0" y="335.6" text-anchor="middle" class="tk">0.1</text><text x="252.9" y="335.6" text-anchor="middle" class="tk">0.5</text><text x="325.6" y="335.6" text-anchor="middle" class="tk">1</text><text x="494.5" y="335.6" text-anchor="middle" class="tk">5</text><text x="567.2" y="335.6" text-anchor="middle" class="tk">10</text>
<text x="100.2" y="35.7" class="lg">Distance error contributions:</text>
<line x1="87.9" y1="53.4" x2="134.3" y2="53.4" stroke="#ff0000" stroke-width="2.1" stroke-dasharray="3.3 2.55"/>
<text x="143.7" y="57.5" class="lg">lensing (no delensing)</text>
<line x1="87.9" y1="82.5" x2="134.3" y2="82.5" stroke="#ff0000" stroke-width="2.1"/>
<text x="143.7" y="86.6" class="lg">lensing (with delensing)</text>
<line x1="87.9" y1="111.7" x2="134.3" y2="111.7" stroke="#ff7f00" stroke-width="2.1"/>
<text x="143.7" y="115.8" class="lg">peculiar velocities</text>
<line x1="87.9" y1="140.6" x2="134.3" y2="140.6" stroke="#0000ff" stroke-width="2.1"/>
<text x="143.7" y="144.7" class="lg">LISA measurement</text>
<line x1="87.9" y1="169.8" x2="134.3" y2="169.8" stroke="#00a800" stroke-width="2.1"/>
<text x="143.7" y="173.9" class="lg">redshift measurement</text>
<line x1="87.9" y1="198.7" x2="134.3" y2="198.7" stroke="#000000" stroke-width="2.1" stroke-dasharray="6.7 2.6"/>
<text x="143.7" y="202.8" class="lg">total (with delensing)</text>
<text transform="translate(18.1,158.75) rotate(-90)" text-anchor="middle" class="ax">1<tspan font-style="italic" font-size="26">σ</tspan> relative uncertainties</text>
<text x="326.1" y="366" text-anchor="middle" class="ax" font-style="italic">z</text>
</svg>
</body></html>
